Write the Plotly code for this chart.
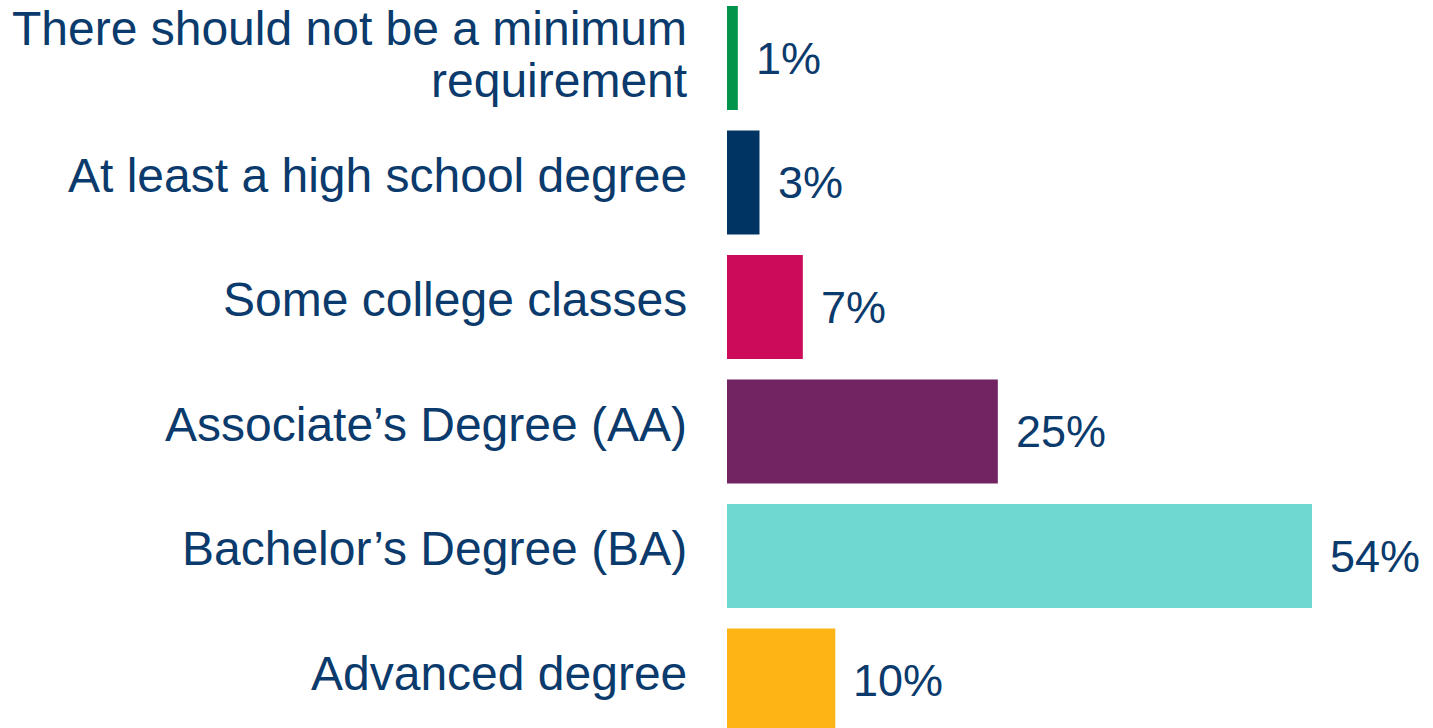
import plotly.graph_objects as go

# survey answers, top to bottom
categories = [
    "There should not be a minimum<br>requirement",
    "At least a high school degree",
    "Some college classes",
    "Associate’s Degree (AA)",
    "Bachelor’s Degree (BA)",
    "Advanced degree",
]
values = [1, 3, 7, 25, 54, 10]
value_labels = ["1%", "3%", "7%", "25%", "54%", "10%"]

bar_colors = ["#00954A", "#003462", "#CC0C5A", "#722462", "#6FD8D1", "#FDB515"]
text_color = "#0B3A6C"
font_family = "Liberation Sans, Arial, sans-serif"

fig = go.Figure()
fig.add_trace(go.Bar(
    y=categories, x=values, orientation="h",
    marker=dict(color=bar_colors, line=dict(width=0)),
    width=0.835, hoverinfo="skip",
))

# value labels right of each bar
for cat, v, lab in zip(categories, values, value_labels):
    fig.add_annotation(x=v, y=cat, text=lab, showarrow=False,
                       xanchor="left", yanchor="middle", xshift=16,
                       font=dict(size=45, color=text_color, family=font_family))

# category labels, one annotation per line so the spacing stays tight
line_gap = 52
for cat in categories:
    lines = cat.split("<br>")
    n = len(lines)
    base = 7.5 if n == 1 else 4
    for i, ln in enumerate(lines):
        off = base - (i - (n - 1) / 2) * line_gap
        fig.add_annotation(x=0, xref="paper", y=cat, text=ln, showarrow=False,
                           xanchor="right", yanchor="middle", xshift=-38, yshift=off,
                           font=dict(size=48, color=text_color, family=font_family))

fig.update_layout(
    width=1433, height=728,
    margin=dict(l=727, r=0, t=0, b=0),
    paper_bgcolor="white", plot_bgcolor="white",
    showlegend=False,
    xaxis=dict(range=[0, 65.17], visible=False),
    yaxis=dict(type="category", categoryarray=categories, range=[5.381, -0.466],
               showticklabels=False, showgrid=False, zeroline=False, showline=False),
)

# drop the default 8px body margin so the figure fills the window
fig.write_html("out.html", config={"displayModeBar": False},
               post_script="document.body.style.margin='0';")
